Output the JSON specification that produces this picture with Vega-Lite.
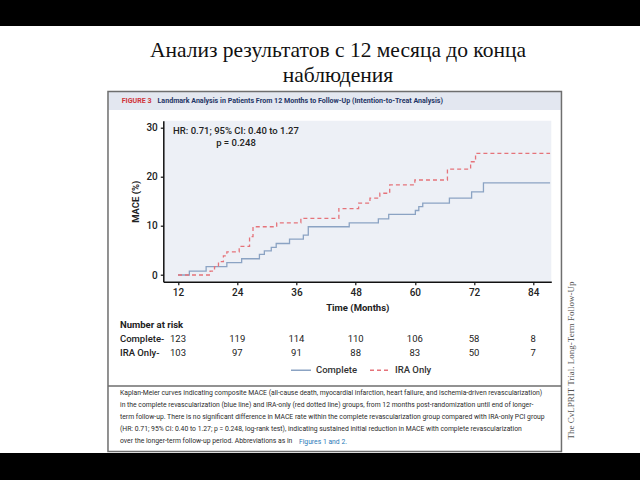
{
  "$schema": "https://vega.github.io/schema/vega-lite/v6.json",
  "width": 388,
  "height": 161,
  "autosize": "none",
  "padding": {"left": 163.3, "top": 120.7, "right": 88.7, "bottom": 198.3},
  "background": "white",
  "config": {
    "view": {"fill": "#edf0f6", "stroke": null},
    "font": "Roboto",
    "axis": {
      "grid": false,
      "domainColor": "#111111",
      "domainWidth": 1.5,
      "tickColor": "#111111",
      "tickSize": 3,
      "tickWidth": 1.2,
      "labelFont": "Roboto",
      "labelFontSize": 10,
      "labelFontWeight": 500,
      "labelColor": "#222222",
      "labelPadding": 3,
      "titleFont": "Roboto",
      "titleFontSize": 9.5,
      "titleFontWeight": "bold",
      "titleColor": "#222222",
      "titlePadding": 5
    },
    "legend": {
      "orient": "none",
      "legendX": 126.7,
      "legendY": 238.3,
      "direction": "horizontal",
      "symbolType": "stroke",
      "symbolSize": 400,
      "symbolStrokeWidth": 1.3,
      "labelFont": "Roboto",
      "labelFontSize": 9.5,
      "labelFontWeight": 500,
      "labelColor": "#333333",
      "labelOffset": 4,
      "columnPadding": 10
    }
  },
  "datasets": {
    "km": [
      {"group": "Complete", "month": 12, "mace": 0},
      {"group": "Complete", "month": 14.3, "mace": 0.8},
      {"group": "Complete", "month": 17.7, "mace": 1.7},
      {"group": "Complete", "month": 21.9, "mace": 2.5},
      {"group": "Complete", "month": 24.9, "mace": 3.3},
      {"group": "Complete", "month": 28.5, "mace": 4.2},
      {"group": "Complete", "month": 29.5, "mace": 4.9},
      {"group": "Complete", "month": 30.9, "mace": 5.6},
      {"group": "Complete", "month": 31.9, "mace": 6.4},
      {"group": "Complete", "month": 34.6, "mace": 7.3},
      {"group": "Complete", "month": 37.4, "mace": 8.1},
      {"group": "Complete", "month": 38.4, "mace": 9.8},
      {"group": "Complete", "month": 46.7, "mace": 10.6},
      {"group": "Complete", "month": 52.6, "mace": 11.4},
      {"group": "Complete", "month": 54.7, "mace": 12.3},
      {"group": "Complete", "month": 60.1, "mace": 13.1},
      {"group": "Complete", "month": 60.8, "mace": 13.9},
      {"group": "Complete", "month": 61.6, "mace": 14.6},
      {"group": "Complete", "month": 67.0, "mace": 15.6},
      {"group": "Complete", "month": 71.5, "mace": 16.9},
      {"group": "Complete", "month": 73.9, "mace": 18.7},
      {"group": "Complete", "month": 87.4, "mace": 18.7},
      {"group": "IRA Only", "month": 12, "mace": 0},
      {"group": "IRA Only", "month": 18.5, "mace": 0.8},
      {"group": "IRA Only", "month": 19.4, "mace": 1.7},
      {"group": "IRA Only", "month": 20.2, "mace": 2.7},
      {"group": "IRA Only", "month": 21.2, "mace": 3.9},
      {"group": "IRA Only", "month": 21.9, "mace": 4.7},
      {"group": "IRA Only", "month": 24.4, "mace": 5.8},
      {"group": "IRA Only", "month": 26.5, "mace": 7.8},
      {"group": "IRA Only", "month": 27.2, "mace": 9.8},
      {"group": "IRA Only", "month": 32.0, "mace": 10.6},
      {"group": "IRA Only", "month": 36.9, "mace": 11.5},
      {"group": "IRA Only", "month": 44.6, "mace": 13.5},
      {"group": "IRA Only", "month": 48.6, "mace": 14.6},
      {"group": "IRA Only", "month": 50.9, "mace": 15.6},
      {"group": "IRA Only", "month": 52.9, "mace": 16.6},
      {"group": "IRA Only", "month": 54.9, "mace": 18.3},
      {"group": "IRA Only", "month": 60.0, "mace": 19.3},
      {"group": "IRA Only", "month": 66.6, "mace": 21.5},
      {"group": "IRA Only", "month": 71.3, "mace": 23.0},
      {"group": "IRA Only", "month": 72.3, "mace": 24.7},
      {"group": "IRA Only", "month": 87.4, "mace": 24.7}
    ],
    "risk": [
      {"group": "Complete", "month": 12, "n": 123},
      {"group": "Complete", "month": 24, "n": 119},
      {"group": "Complete", "month": 36, "n": 114},
      {"group": "Complete", "month": 48, "n": 110},
      {"group": "Complete", "month": 60, "n": 106},
      {"group": "Complete", "month": 72, "n": 58},
      {"group": "Complete", "month": 84, "n": 8},
      {"group": "IRA Only", "month": 12, "n": 103},
      {"group": "IRA Only", "month": 24, "n": 97},
      {"group": "IRA Only", "month": 36, "n": 91},
      {"group": "IRA Only", "month": 48, "n": 88},
      {"group": "IRA Only", "month": 60, "n": 83},
      {"group": "IRA Only", "month": 72, "n": 50},
      {"group": "IRA Only", "month": 84, "n": 7}
    ]
  },
  "layer": [
    {
      "data": {"values": [{}]},
      "mark": {"type": "rect", "fill": "#e3e7f0"},
      "encoding": {
        "x": {"datum": -2.19}, "x2": {"datum": 89.71},
        "y": {"datum": 37.17}, "y2": {"datum": 33.51}
      }
    },
    {
      "data": {"values": [{}]},
      "mark": {"type": "rect", "fill": null, "fillOpacity": 0, "stroke": "#6e6e6e", "strokeWidth": 1.5},
      "encoding": {
        "x": {"datum": -2.19}, "x2": {"datum": 89.71},
        "y": {"datum": 37.27}, "y2": {"datum": -35.85}
      }
    },
    {
      "data": {"values": [{}]},
      "mark": {"type": "rule", "stroke": "#6e6e6e", "strokeWidth": 1.5},
      "encoding": {
        "x": {"datum": -2.19}, "x2": {"datum": 89.71},
        "y": {"datum": -22.54}
      }
    },
    {
      "data": {"values": [{}]},
      "mark": {"type": "rect", "fill": "#000000"},
      "encoding": {
        "x": {"datum": -30}, "x2": {"datum": 110},
        "y": {"datum": 50.57}, "y2": {"datum": 60}
      }
    },
    {
      "data": {"values": [{}]},
      "mark": {"type": "rect", "fill": "#000000"},
      "encoding": {
        "x": {"datum": -30}, "x2": {"datum": 110},
        "y": {"datum": -36.15}, "y2": {"datum": -45}
      }
    },
    {
      "data": {"values": [{}]},
      "mark": {"type": "text", "align": "center", "baseline": "alphabetic", "font": "Liberation Serif", "fontSize": 21.5, "color": "#111111", "lineHeight": 25},
      "encoding": {
        "x": {"datum": 44.42}, "y": {"datum": 44.28},
        "text": {"value": ["Анализ результатов с 12 месяца до конца", "наблюдения"]}
      }
    },
    {
      "data": {"name": "km"},
      "mark": {"type": "line", "interpolate": "step-after", "strokeWidth": 1.3},
      "encoding": {
        "x": {
          "field": "month", "type": "quantitative",
          "scale": {"domain": [9.02, 87.65], "nice": false, "zero": false},
          "axis": {"title": "Time (Months)", "values": [12, 24, 36, 48, 60, 72, 84]}
        },
        "y": {
          "field": "mace", "type": "quantitative",
          "scale": {"domain": [-1.36, 31.34], "nice": false, "zero": false},
          "axis": {"title": "MACE (%)", "values": [0, 10, 20, 30]}
        },
        "color": {
          "field": "group", "type": "nominal", "title": null,
          "scale": {"domain": ["Complete", "IRA Only"], "range": ["#8ba3c3", "#e5737a"]}
        },
        "strokeDash": {
          "field": "group", "type": "nominal", "title": null,
          "scale": {"domain": ["Complete", "IRA Only"], "range": [[1, 0], [4, 3]]}
        }
      }
    },
    {
      "data": {"values": [{}]},
      "mark": {"type": "text", "align": "center", "baseline": "top", "fontSize": 9.5, "fontWeight": 500, "color": "#222222", "lineHeight": 11.5},
      "encoding": {
        "x": {"datum": 23.75}, "y": {"datum": 30.26},
        "text": {"value": ["HR: 0.71; 95% CI: 0.40 to 1.27", "p = 0.248"]}
      }
    },
    {
      "data": {"values": [{}]},
      "mark": {"type": "text", "align": "left", "baseline": "middle", "fontSize": 7.1, "fontWeight": "bold", "color": "#d0353a"},
      "encoding": {
        "x": {"datum": 0.59}, "y": {"datum": 35.34},
        "text": {"value": "FIGURE 3"}
      }
    },
    {
      "data": {"values": [{}]},
      "mark": {"type": "text", "align": "left", "baseline": "middle", "fontSize": 7.1, "fontWeight": "bold", "color": "#1f3566"},
      "encoding": {
        "x": {"datum": 7.85}, "y": {"datum": 35.34},
        "text": {"value": "Landmark Analysis in Patients From 12 Months to Follow-Up (Intention-to-Treat Analysis)"}
      }
    },
    {
      "data": {"values": [{}]},
      "mark": {"type": "text", "align": "left", "baseline": "middle", "fontSize": 9.5, "fontWeight": "bold", "color": "#222222"},
      "encoding": {
        "x": {"datum": 0.245}, "y": {"datum": -10.15},
        "text": {"value": "Number at risk"}
      }
    },
    {
      "data": {"values": [{}]},
      "mark": {"type": "text", "align": "left", "baseline": "middle", "fontSize": 9.5, "fontWeight": 500, "color": "#222222"},
      "encoding": {
        "x": {"datum": 0.245}, "y": {"datum": -12.99},
        "text": {"value": "Complete-"}
      }
    },
    {
      "data": {"values": [{}]},
      "mark": {"type": "text", "align": "left", "baseline": "middle", "fontSize": 9.5, "fontWeight": 500, "color": "#222222"},
      "encoding": {
        "x": {"datum": 0.245}, "y": {"datum": -15.74},
        "text": {"value": "IRA Only-"}
      }
    },
    {
      "data": {"name": "risk"},
      "transform": [{"filter": "datum.group === 'Complete'"}],
      "mark": {"type": "text", "align": "center", "baseline": "middle", "fontSize": 9.5, "color": "#222222"},
      "encoding": {
        "x": {"field": "month", "type": "quantitative"},
        "y": {"datum": -12.99},
        "text": {"field": "n", "type": "quantitative"}
      }
    },
    {
      "data": {"name": "risk"},
      "transform": [{"filter": "datum.group === 'IRA Only'"}],
      "mark": {"type": "text", "align": "center", "baseline": "middle", "fontSize": 9.5, "color": "#222222"},
      "encoding": {
        "x": {"field": "month", "type": "quantitative"},
        "y": {"datum": -15.74},
        "text": {"field": "n", "type": "quantitative"}
      }
    },
    {
      "data": {"values": [{}]},
      "mark": {"type": "text", "align": "left", "baseline": "top", "fontSize": 6.8, "color": "#2b2b2b", "lineHeight": 11.9},
      "encoding": {
        "x": {"datum": 0.245}, "y": {"datum": -23.4},
        "text": {"value": [
          "Kaplan-Meier curves indicating composite MACE (all-cause death, myocardial infarction, heart failure, and ischemia-driven revascularization)",
          "in the complete revascularization (blue line) and IRA-only (red dotted line) groups, from 12 months post-randomization until end of longer-",
          "term follow-up. There is no significant difference in MACE rate within the complete revascularization group compared with IRA-only PCI group",
          "(HR: 0.71; 95% CI: 0.40 to 1.27; p = 0.248, log-rank test), indicating sustained initial reduction in MACE with complete revascularization",
          "over the longer-term follow-up period. Abbreviations as in"
        ]}
      }
    },
    {
      "data": {"values": [{}]},
      "mark": {"type": "text", "align": "left", "baseline": "top", "fontSize": 6.8, "color": "#2a7ab8"},
      "encoding": {
        "x": {"datum": 36.5}, "y": {"datum": -33.23},
        "text": {"value": "Figures 1 and 2."}
      }
    },
    {
      "data": {"values": [{}]},
      "mark": {"type": "text", "align": "center", "baseline": "middle", "angle": 270, "font": "Liberation Serif", "fontSize": 9, "color": "#555555"},
      "encoding": {
        "x": {"datum": 91.64}, "y": {"datum": -17.37},
        "text": {"value": "The CvLPRIT Trial. Long-Term Follow-Up"}
      }
    }
  ]
}
